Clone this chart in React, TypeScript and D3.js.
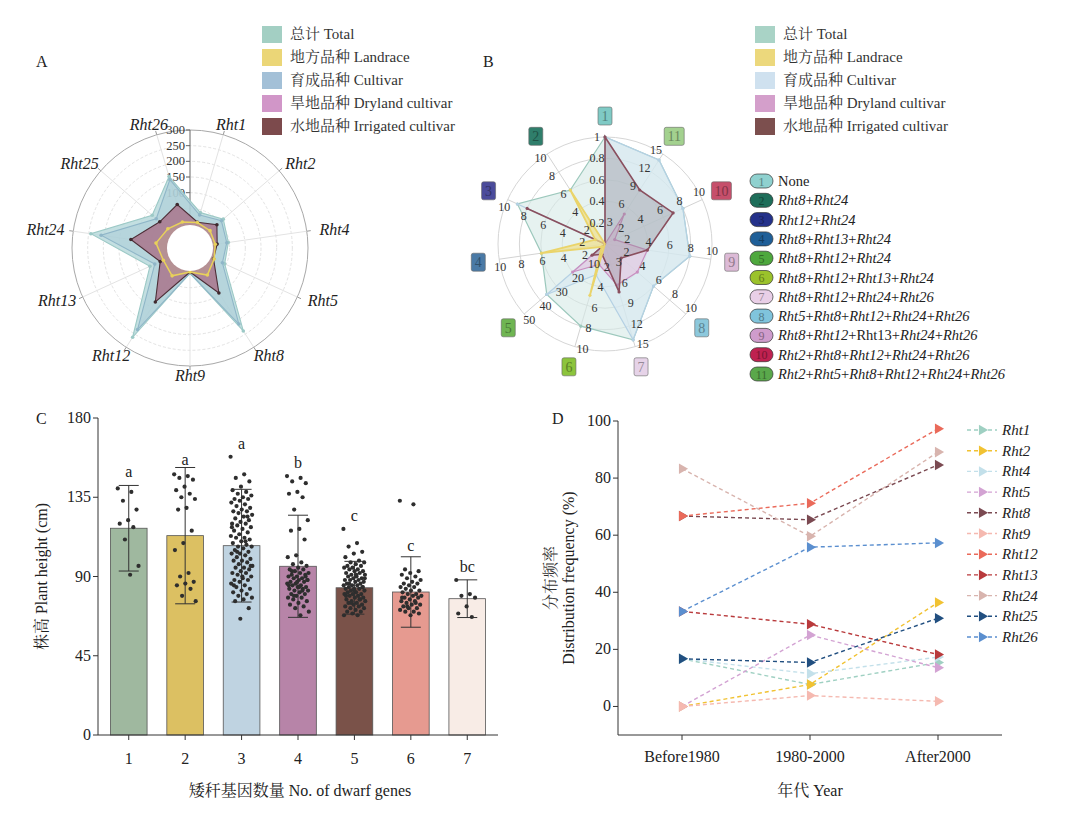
import React from 'react';
import * as d3 from 'd3';

const FONT = "'Liberation Serif', 'Noto Serif CJK SC', 'Noto Sans CJK SC', serif";

// ---- legend (A and B)
const groupLabels = ['总计 Total', '地方品种 Landrace', '育成品种 Cultivar', '旱地品种 Dryland cultivar', '水地品种 Irrigated cultivar'];
const groupColorsA = ['#a3cfc3', '#ebd677', '#a3c0d7', '#d196c8', '#7c4a4c'];
const groupColorsB = ['#a9d3c6', '#ecd87c', '#cfe1ef', '#d49fcb', '#7c4f4e'];

// ---- panel A: accessions carrying each gene
const genesA = ['Rht1', 'Rht2', 'Rht4', 'Rht5', 'Rht8', 'Rht9', 'Rht12', 'Rht13', 'Rht24', 'Rht25', 'Rht26'];
const totalA = [41, 64, 47, 45, 238, 4, 262, 64, 243, 83, 161];
const landraceA = [8, 8, 5, 8, 26, 0, 29, 17, 33, 17, 10];
const cultivarA = [33, 56, 42, 37, 212, 4, 233, 47, 210, 66, 151];
const drylandA = [8, 33, 10, 5, 85, 0, 115, 25, 103, 46, 61];
const irrigatedA = [9, 37, 11, 6, 94, 0, 128, 28, 114, 51, 68];
const ticksA = [100, 150, 200, 250, 300];

// ---- panel B: gene combinations
const combos = ['None', 'Rht8+Rht24', 'Rht12+Rht24', 'Rht8+Rht13+Rht24', 'Rht8+Rht12+Rht24', 'Rht8+Rht12+Rht13+Rht24',
  'Rht8+Rht12+Rht24+Rht26', 'Rht5+Rht8+Rht12+Rht24+Rht26', 'Rht8+Rht12+Rht13+Rht24+Rht26',
  'Rht2+Rht8+Rht12+Rht24+Rht26', 'Rht2+Rht5+Rht8+Rht12+Rht24+Rht26'];
const axisMaxB = [1, 10, 10, 10, 50, 10, 15, 10, 10, 10, 15];
const totalB = [1, 6, 9, 6, 36, 8, 14, 6, 8, 8, 14];
const landraceB = [0, 6, 1, 6, 2, 5, 0, 0, 0, 0, 0];
const cultivarB = [1, 0, 9, 0, 36, 3, 14, 6, 8, 8, 14];
const drylandB = [0, 0, 1, 0, 20, 2, 6, 4, 4, 1, 5];
const irrigatedB = [1, 0, 8, 0, 8, 1, 7, 2, 4, 7, 9];
const boxColors = ['#7fcac5', '#2f7e6b', '#4b4b9b', '#4a7aa6', '#6fb552', '#8cc43c', '#e6d3e8', '#8cc8dc', '#dcbad6', '#c64f6b', '#a3d18f'];
const pillColors = ['#8fd1cf', '#1e6e5a', '#24318a', '#1f5f98', '#4ea83d', '#9bc22b', '#e9cfe7', '#80c4dc', '#cf9ccc', '#bf2150', '#5aa84b'];

// ---- panel C: plant height by number of dwarf genes
const geneCounts = ['1', '2', '3', '4', '5', '6', '7'];
const heightMean = [117.4, 113.2, 107.5, 95.8, 83.6, 81.2, 77.4];
const heightSd = [24.3, 38.7, 32.0, 29.0, 15.0, 20.0, 10.7];
const heightTicks = [0, 45, 90, 135, 180];
const sigLetters = ['a', 'a', 'a', 'b', 'c', 'c', 'bc'];
const letterAt = [142, 149, 158, 147, 117, 100, 88];
const barColors = ['#9fb89f', '#dcc062', '#bfd3e1', '#b784a8', '#7a5249', '#e69a90', '#f8ece6'];
const dots1 = [140, 138, 133, 128, 122, 120, 118, 111, 96, 91];
const dots2 = [148, 147, 146, 145, 141, 139, 137, 135, 134, 129, 128, 116, 109, 105, 92, 90, 87, 86, 85, 83, 79, 76];
const dots3 = [158, 148, 146, 144, 141, 139, 138, 137, 136, 135, 134, 134, 133, 132, 131, 130, 129, 128, 127, 127, 126, 125, 124, 123,
  122, 121, 120, 120, 119, 118, 117, 116, 115, 114, 113, 112, 112, 111, 110, 109, 108, 107, 107, 106, 105, 104, 103, 103, 102,
  101, 100, 99, 99, 98, 97, 96, 95, 95, 94, 93, 92, 92, 91, 90, 89, 88, 88, 87, 86, 85, 84, 83, 82, 81, 80, 79, 78, 77, 76, 72,
  66, 118, 110, 104, 96, 90, 85, 124];
const dots4 = [147, 146, 144, 143, 138, 137, 135, 128, 122, 117, 116, 111, 102, 101, 98, 97, 96, 95, 94, 94, 93, 92, 92, 91, 91,
  90, 90, 89, 89, 88, 88, 87, 87, 86, 86, 85, 85, 84, 84, 83, 83, 82, 82, 81, 80, 80, 79, 78, 78, 77, 76, 75, 74, 73, 72, 70, 68,
  93, 90, 87, 85, 82, 79, 88, 84];
const dots5 = [117, 109, 107, 104, 103, 101, 99, 98, 98, 97, 96, 96, 95, 95, 94, 94, 93, 93, 92, 92, 91, 91, 90, 90, 89, 89, 88,
  88, 88, 87, 87, 86, 86, 85, 85, 85, 84, 84, 83, 83, 83, 82, 82, 81, 81, 80, 80, 80, 79, 79, 78, 78, 77, 77, 76, 76, 75, 75, 74,
  74, 73, 73, 72, 72, 71, 70, 70, 69, 68, 68, 86, 84, 82, 79, 77, 75, 89, 91];
const dots6 = [133, 131, 94, 93, 92, 91, 90, 89, 88, 87, 86, 86, 85, 84, 84, 83, 82, 82, 81, 80, 80, 79, 79, 78, 78, 77, 76, 76,
  75, 74, 74, 73, 72, 72, 71, 70, 70, 69, 68, 78, 75, 73];
const dots7 = [88, 80, 79, 78, 73, 69, 67];
const dotGroups = [dots1, dots2, dots3, dots4, dots5, dots6, dots7];

// ---- panel D: distribution frequency (%) by period
const periods = ['Before1980', '1980-2000', 'After2000'];
const rht1 = [16.7, 7.7, 15.4];
const rht2 = [0, 7.7, 36.4];
const rht4 = [16.7, 11.5, 17.3];
const rht5 = [0, 25.0, 13.6];
const rht8 = [66.7, 65.4, 84.6];
const rht9 = [0, 3.8, 1.8];
const rht12 = [66.7, 71.2, 97.3];
const rht13 = [33.3, 28.8, 18.2];
const rht24 = [83.3, 59.6, 89.1];
const rht25 = [16.7, 15.4, 30.9];
const rht26 = [33.3, 55.8, 57.3];
const genesD = ['Rht1', 'Rht2', 'Rht4', 'Rht5', 'Rht8', 'Rht9', 'Rht12', 'Rht13', 'Rht24', 'Rht25', 'Rht26'];
const freqD = [rht1, rht2, rht4, rht5, rht8, rht9, rht12, rht13, rht24, rht25, rht26];
const colorsD = ['#9fd0c2', '#f1c232', '#c3e0ea', '#d3a3d3', '#7b4a52', '#f5b9b0', '#ea6a5a', '#b93a3c', '#d8b4ae', '#214f80', '#5b8fcf'];

const GroupLegend = ({ x, y, colors }: { x: number; y: number; colors: string[] }) => (
  <g>
    {groupLabels.map((t, i) => (
      <g key={t} transform={`translate(${x},${y + i * 23})`}>
        <rect x={0} y={-8} width={20} height={17} fill={colors[i]} />
        <text x={28} y={5} fontSize={15} fill="#333">{t}</text>
      </g>
    ))}
  </g>
);

function RadarA() {
  const cx = 190, cy = 248;
  const rA = d3.scaleLinear().domain([0, 300]).range([24, 118]);
  const step = (2 * Math.PI) / genesA.length;
  const ang = (i: number) => (i + 0.5) * step;
  const radial = d3.lineRadial<number>().angle((_, i) => ang(i)).radius(d => rA(d)).curve(d3.curveLinearClosed);
  const series = [
    { v: drylandA, fill: '#cf94c5', fo: 0.4, stroke: '#c58bbb', dot: '#c58bbb' },
    { v: totalA, fill: '#b9d9dc', fo: 0.85, stroke: '#9cc9c6', dot: '#9cc9c6' },
    { v: cultivarA, fill: '#a3c6d4', fo: 0.4, stroke: '#8fb6c8', dot: '#8fb6c8' },
    { v: irrigatedA, fill: '#a86a82', fo: 0.75, stroke: '#4d2e37', dot: '#3f2a2f' },
    { v: landraceA, fill: '#f0dc80', fo: 0.15, stroke: '#e8d15a', dot: '#e8d15a' },
  ];
  return (
    <g>
      {d3.range(0, 301, 50).map(v => (
        <circle key={v} cx={cx} cy={cy} r={rA(v)} fill="none" stroke={v === 300 ? '#a8a8a8' : '#e3e3e3'}
          strokeDasharray={v === 300 ? undefined : '3 2'} />
      ))}
      {genesA.map((g, i) => {
        const a = ang(i);
        return (
          <g key={g}>
            <line x1={cx + rA(0) * Math.sin(a)} y1={cy - rA(0) * Math.cos(a)} x2={cx + rA(300) * Math.sin(a)}
              y2={cy - rA(300) * Math.cos(a)} stroke="#e3e3e3" />
            <line x1={cx + rA(300) * Math.sin(a)} y1={cy - rA(300) * Math.cos(a)} x2={cx + (rA(300) + 4) * Math.sin(a)}
              y2={cy - (rA(300) + 4) * Math.cos(a)} stroke="#999" />
          </g>
        );
      })}
      <line x1={cx} y1={cy - rA(0)} x2={cx} y2={cy - rA(300)} stroke="#666" />
      {ticksA.map(v => (
        <g key={v}>
          <line x1={cx - 4} x2={cx} y1={cy - rA(v)} y2={cy - rA(v)} stroke="#666" />
          <text x={cx - 5} y={cy - rA(v) + 4} fontSize={12.5} textAnchor="end" fill="#333">{v}</text>
        </g>
      ))}
      <g transform={`translate(${cx},${cy})`}>
        {series.map((s, k) => (
          <g key={k}>
            <path d={radial(s.v) || ''} fill={s.fill} fillOpacity={s.fo} stroke={s.stroke} strokeWidth={k === 4 ? 1.5 : 1.1} />
            {s.v.map((d, i) => (
              <circle key={i} cx={rA(d) * Math.sin(ang(i))} cy={-rA(d) * Math.cos(ang(i))} r={1.8} fill={s.dot} />
            ))}
          </g>
        ))}
        <circle r={23} fill="#fff" />
      </g>
      {genesA.map((g, i) => {
        const a = ang(i);
        const x = cx + 119 * Math.sin(a) + 27 * Math.sin(a);
        const y = cy - 128 * Math.cos(a) + 5;
        return (
          <text key={g} x={x} y={y} textAnchor="middle" fontStyle="italic" fontSize={16} fill="#222">{g}</text>
        );
      })}
    </g>
  );
}

function comboText(label: string, idx: number) {
  if (label === 'None') return <tspan>None</tspan>;
  return label.split('+').map((p, j) => (
    <React.Fragment key={j}>
      {j > 0 && <tspan fontStyle="normal">+</tspan>}
      <tspan fontStyle={idx === 8 && p === 'Rht13' ? 'normal' : 'italic'}>{p}</tspan>
    </React.Fragment>
  ));
}

function RadarB() {
  const cx = 605, cy = 244, R = 107;
  const n = combos.length;
  const step = (2 * Math.PI) / n;
  const ang = (i: number) => -i * step;
  const scales = axisMaxB.map(m => d3.scaleLinear().domain([0, m]).range([0, R]));
  const radial = d3.lineRadial<number>().angle((_, i) => ang(i)).radius((d, i) => scales[i](d)).curve(d3.curveLinearClosed);
  const series = [
    { v: totalB, fill: '#d5e9e6', fo: 0.6, stroke: '#9cc8bc' },
    { v: cultivarB, fill: '#d6e7f3', fo: 0.55, stroke: '#b5d1e4' },
    { v: drylandB, fill: '#e4bfdd', fo: 0.55, stroke: '#c98fc1' },
    { v: irrigatedB, fill: '#8c8890', fo: 0.35, stroke: '#8a4f5e' },
    { v: landraceB, fill: '#f0e08a', fo: 0.7, stroke: '#ead46a' },
  ];
  return (
    <g>
      {d3.range(1, 6).map(k => (
        <circle key={k} cx={cx} cy={cy} r={(R * k) / 5} fill="none" stroke="#d6d6d6" />
      ))}
      {combos.map((c, i) => (
        <line key={c} x1={cx} y1={cy} x2={cx + R * Math.sin(ang(i))} y2={cy - R * Math.cos(ang(i))} stroke="#d3d3d3" />
      ))}
      <g transform={`translate(${cx},${cy})`}>
        {series.map((s, k) => (
          <g key={k}>
            <path d={radial(s.v) || ''} fill={s.fill} fillOpacity={s.fo} stroke={s.stroke}
              strokeWidth={k === 3 ? 1.6 : k === 4 ? 1.8 : 1.2} />
            {s.v.map((d, i) => d > 0 && (
              <circle key={i} cx={scales[i](d) * Math.sin(ang(i))} cy={-scales[i](d) * Math.cos(ang(i))} r={1.6} fill={s.stroke} />
            ))}
          </g>
        ))}
      </g>
      {combos.map((c, i) => {
        const a = ang(i);
        const ticks = d3.range(1, 6).map(k => (axisMaxB[i] * k) / 5);
        return ticks.map(t => {
          const r = scales[i](t);
          const x = cx + r * Math.sin(a) - 8 * Math.cos(a);
          const y = cy - r * Math.cos(a) - 8 * Math.sin(a);
          return (
            <text key={`${i}-${t}`} x={x} y={y + 4} textAnchor="middle" fontSize={12} fill="#333">
              {axisMaxB[i] === 1 ? (t === 1 ? '1' : d3.format('.1f')(t)) : t}
            </text>
          );
        });
      })}
      {combos.map((c, i) => {
        const a = ang(i);
        const x = cx + 128 * Math.sin(a);
        const y = cy - 128 * Math.cos(a);
        const w = i >= 9 ? 20 : 14;
        return (
          <g key={c} transform={`translate(${x},${y})`}>
            <rect x={-w / 2} y={-9} width={w} height={18} rx={2} fill={boxColors[i]} stroke="#666" strokeWidth={0.6} />
            <text y={5} textAnchor="middle" fontSize={14} fill={d3.color(boxColors[i])!.darker(1.2).formatHex()}>{i + 1}</text>
          </g>
        );
      })}
      {combos.map((c, i) => (
        <g key={c} transform={`translate(750,${181 + i * 19.3})`}>
          <rect x={0} y={-7} width={23} height={14} rx={7} fill={pillColors[i]} stroke="#333" strokeWidth={0.7} />
          <text x={11.5} y={4.5} textAnchor="middle" fontSize={12} fill={d3.color(pillColors[i])!.darker(1.3).formatHex()}>{i + 1}</text>
          <text x={28} y={5} fontSize={14.5} fill="#222">{comboText(c, i)}</text>
        </g>
      ))}
    </g>
  );
}

function BarsC() {
  const left = 98, right = 498, top = 418, bottom = 735;
  const x = d3.scaleBand<string>().domain(geneCounts).range([left, right]).paddingInner(0.35).paddingOuter(0.22);
  const y = d3.scaleLinear().domain([0, 180]).range([bottom, top]);
  const bw = x.bandwidth();
  return (
    <g>
      {geneCounts.map((g, i) => {
        const cxm = x(g)! + bw / 2;
        const hi = y(heightMean[i] + heightSd[i]);
        const lo = y(heightMean[i] - heightSd[i]);
        return (
          <g key={g}>
            <rect x={x(g)} y={y(heightMean[i])} width={bw} height={bottom - y(heightMean[i])} fill={barColors[i]}
              stroke="#555" strokeWidth={0.8} />
            <line x1={cxm} x2={cxm} y1={hi} y2={lo} stroke="#333" />
            <line x1={cxm - 10} x2={cxm + 10} y1={hi} y2={hi} stroke="#333" />
            <line x1={cxm - 10} x2={cxm + 10} y1={lo} y2={lo} stroke="#333" />
            {dotGroups[i].map((v, j) => (
              <circle key={j} cx={cxm + (((j * 0.61803398875) % 1) - 0.5) * 22} cy={y(v)} r={2.1} fill="#2e2e2e" />
            ))}
            <text x={cxm} y={y(letterAt[i]) - 8} textAnchor="middle" fontSize={16} fill="#222">{sigLetters[i]}</text>
          </g>
        );
      })}
      <line x1={left} x2={left} y1={top} y2={bottom} stroke="#333" />
      <line x1={left} x2={right} y1={bottom} y2={bottom} stroke="#333" />
      {heightTicks.map(t => (
        <g key={t}>
          <line x1={left - 5} x2={left} y1={y(t)} y2={y(t)} stroke="#333" />
          <text x={left - 7} y={y(t) + 5} textAnchor="end" fontSize={16} fill="#222">{t}</text>
        </g>
      ))}
      {geneCounts.map(g => (
        <g key={g}>
          <line x1={x(g)! + bw / 2} x2={x(g)! + bw / 2} y1={bottom} y2={bottom + 5} stroke="#333" />
          <text x={x(g)! + bw / 2} y={764} textAnchor="middle" fontSize={16} fill="#222">{g}</text>
        </g>
      ))}
      <text x={300} y={796} textAnchor="middle" fontSize={16} fill="#222">矮秆基因数量 No. of dwarf genes</text>
      <text transform={`translate(47,${(top + bottom) / 2}) rotate(-90)`} textAnchor="middle" fontSize={16} fill="#222">
        株高 Plant height (cm)
      </text>
    </g>
  );
}

function LinesD() {
  const left = 618, right = 1002, top = 421, bottom = 735;
  const x = d3.scalePoint<string>().domain(periods).range([left, right]).padding(0.5);
  const y = d3.scaleLinear().domain([-10, 100]).range([bottom, top]);
  const line = d3.line<number>().x((_, i) => x(periods[i])!).y(d => y(d));
  const tri = d3.symbol().type(d3.symbolTriangle).size(48)() || '';
  return (
    <g>
      {freqD.map((vals, k) => (
        <g key={genesD[k]}>
          <path d={line(vals) || ''} fill="none" stroke={colorsD[k]} strokeWidth={1.4} strokeDasharray="4 3" />
          {vals.map((v, i) => (
            <path key={i} d={tri} transform={`translate(${x(periods[i])},${y(v)}) rotate(90)`} fill={colorsD[k]} />
          ))}
        </g>
      ))}
      <line x1={left} x2={left} y1={top} y2={bottom} stroke="#333" />
      <line x1={left} x2={right} y1={bottom} y2={bottom} stroke="#333" />
      {y.ticks(5).filter(t => t >= 0).map(t => (
        <g key={t}>
          <line x1={left - 5} x2={left} y1={y(t)} y2={y(t)} stroke="#333" />
          <text x={left - 7} y={y(t) + 5} textAnchor="end" fontSize={16} fill="#222">{t}</text>
        </g>
      ))}
      {periods.map(p => (
        <g key={p}>
          <line x1={x(p)} x2={x(p)} y1={bottom} y2={bottom + 5} stroke="#333" />
          <text x={x(p)} y={762} textAnchor="middle" fontSize={16} fill="#222">{p}</text>
        </g>
      ))}
      <text x={810} y={796} textAnchor="middle" fontSize={16} fill="#222">年代 Year</text>
      <text transform={`translate(556,${(top + bottom) / 2}) rotate(-90)`} textAnchor="middle" fontSize={16} fill="#333">分布频率</text>
      <text transform={`translate(574,${(top + bottom) / 2}) rotate(-90)`} textAnchor="middle" fontSize={16} fill="#222">
        Distribution frequency (%)
      </text>
      {genesD.map((g, k) => {
        const yy = 430 + k * 20.7;
        return (
          <g key={g}>
            <line x1={967} x2={997} y1={yy} y2={yy} stroke={colorsD[k]} strokeWidth={1.4} strokeDasharray="4 3" />
            <path d={tri} transform={`translate(982,${yy}) rotate(90)`} fill={colorsD[k]} />
            <text x={1002} y={yy + 5} fontSize={15} fontStyle="italic" fill="#222">{g}</text>
          </g>
        );
      })}
    </g>
  );
}

export default function App() {
  return (
    <svg width={1080} height={819} viewBox="0 0 1080 819"
      style={{ position: 'absolute', left: 0, top: 0, background: '#fff', fontFamily: FONT }}>
      <rect width={1080} height={819} fill="#fff" />
      <text x={36} y={67} fontSize={16} fill="#222">A</text>
      <text x={483} y={67} fontSize={16} fill="#222">B</text>
      <text x={36} y={424} fontSize={16} fill="#222">C</text>
      <text x={552} y={424} fontSize={16} fill="#222">D</text>
      <GroupLegend x={262} y={34} colors={groupColorsA} />
      <GroupLegend x={755} y={34} colors={groupColorsB} />
      <RadarA />
      <RadarB />
      <BarsC />
      <LinesD />
    </svg>
  );
}
